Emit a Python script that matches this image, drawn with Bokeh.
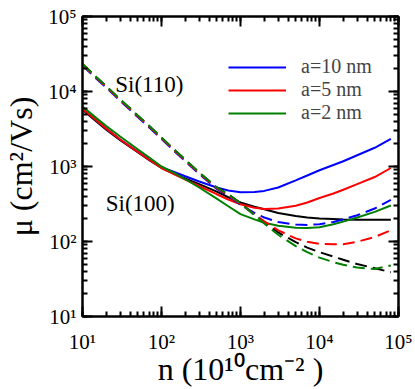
from bokeh.plotting import figure
from bokeh.models import Range1d, LogAxis, LogTicker, Legend, LegendItem, Label
from bokeh.embed import file_html
from bokeh.resources import INLINE

# carrier density n (10^10 cm^-2)
n = [10, 15, 20, 30, 50, 70, 100, 150, 200, 300, 500, 700, 1000, 1500, 2000, 3000,
     5000, 7000, 10000, 15000, 20000, 30000, 50000, 80000]

# Si(100) mobility (solid lines)
mu100_ref = [5700, 3981, 3090, 2239, 1549, 1216, 955, 785, 692, 582, 462, 389, 331, 292,
             269, 240, 219, 209, 203, 200, 197, 195, 195, 195]
mu100_a10 = [5888, 4121, 3199, 2291, 1585, 1245, 977, 832, 741, 631, 525, 479, 454, 457,
             473, 525, 653, 759, 891, 1047, 1175, 1413, 1778, 2344]
mu100_a5 = [5888, 4121, 3199, 2291, 1567, 1230, 955, 776, 668, 550, 427, 363, 313, 282,
            272, 275, 299, 331, 380, 437, 490, 582, 724, 955]
mu100_a2 = [6310, 4416, 3467, 2512, 1698, 1318, 1000, 804, 676, 525, 372, 295, 232, 197,
            178, 162, 153, 151, 155, 170, 184, 209, 248, 302]

# Si(110) mobility (dashed lines)
mu110_ref = [23230, 15490, 11750, 7853, 4786, 3467, 2432, 1622, 1230, 832, 525, 427, 324, 229,
             182, 132, 98, 83, 72, 63, 57, 50, 44, 39]
mu110_a10 = [22180, 14790, 11220, 7500, 4570, 3311, 2323, 1549, 1175, 794, 501, 407, 309, 240,
             209, 182, 168, 166, 170, 182, 197, 224, 275, 360]
mu110_a5 = [22700, 15140, 11480, 7674, 4677, 3388, 2377, 1585, 1202, 813, 513, 417, 316, 229,
            186, 141, 110, 99, 93, 92, 92, 99, 115, 141]
mu110_a2 = [23230, 15490, 11750, 7853, 4786, 3467, 2432, 1622, 1230, 832, 525, 427, 324, 224,
            174, 123, 87, 72, 61, 53, 49, 45, 43, 48]

major_ticks = [10, 100, 1000, 10000, 100000]
tick_labels = ["10\u00b9", "10\u00b2", "10\u00b3", "10\u2074", "10\u2075"]
legend_labels = ["a=10 nm", "a=5 nm", "a=2 nm"]
x_title = "n (10\u00b9\u2070cm\u207b\u00b2 )"
y_title = "\u03bc (cm\u00b2/Vs)"

FONT = "Liberation Serif"

p = figure(width=415, height=389, x_axis_type="log", y_axis_type="log",
           x_range=Range1d(10, 1e5), y_range=Range1d(10, 1e5),
           output_backend="svg", toolbar_location=None,
           min_border_left=80, min_border_right=17, min_border_top=16, min_border_bottom=72)
p.xgrid.visible = False
p.ygrid.visible = False
p.outline_line_color = "black"
p.outline_line_width = 2
p.background_fill_color = "white"
p.border_fill_color = "white"


def style(ax, labels):
    ax.ticker = LogTicker(num_minor_ticks=10, desired_num_ticks=5)
    ax.axis_line_width = 2
    ax.axis_line_color = "black"
    ax.major_tick_in = 10
    ax.major_tick_out = 0
    ax.minor_tick_in = 5
    ax.minor_tick_out = 0
    ax.major_tick_line_width = 2
    ax.minor_tick_line_width = 2
    ax.major_tick_line_color = "black"
    ax.minor_tick_line_color = "black"
    ax.major_label_overrides = {float(t): l for t, l in zip(major_ticks, labels)}
    ax.major_label_text_font = FONT
    ax.major_label_text_font_size = "21px"
    ax.major_label_text_color = "black"
    ax.axis_label_text_font = FONT
    ax.axis_label_text_font_size = "32px"
    ax.axis_label_text_font_style = "normal"
    ax.axis_label_text_color = "black"


style(p.xaxis[0], tick_labels)
style(p.yaxis[0], tick_labels)
p.xaxis[0].axis_label = x_title
p.yaxis[0].axis_label = y_title
p.xaxis[0].major_label_standoff = 13
p.xaxis[0].axis_label_standoff = -6
p.yaxis[0].major_label_standoff = 6
p.yaxis[0].axis_label_standoff = 6

blank = [""] * len(major_ticks)
for side in ("above", "right"):
    ax = LogAxis()
    style(ax, blank)
    ax.major_label_standoff = 0
    p.add_layout(ax, side)

colors = ["black", "blue", "red", "green"]
solid = [mu100_ref, mu100_a10, mu100_a5, mu100_a2]
dashed = [mu110_ref, mu110_a10, mu110_a5, mu110_a2]

rs = []
for ys, c in zip(solid, colors):
    rs.append(p.line(n, ys, line_color=c, line_width=2))
for ys, c in zip(dashed, colors):
    p.line(n, ys, line_color=c, line_width=2, line_dash="12 6")

legend = Legend(items=[LegendItem(label=legend_labels[i], renderers=[rs[i + 1]]) for i in range(3)],
                location=(146, 192), label_text_font=FONT, label_text_font_size="20px",
                glyph_width=58, glyph_height=22, label_height=22, spacing=0, padding=0, margin=0,
                label_standoff=15, border_line_alpha=0, background_fill_alpha=0)
p.add_layout(legend)

p.add_layout(Label(x=26, y=12300, text="Si(110)", text_font=FONT, text_font_size="23px",
                   text_baseline="alphabetic", text_color="black"))
p.add_layout(Label(x=19.7, y=325, text="Si(100)", text_font=FONT, text_font_size="23px",
                   text_baseline="alphabetic", text_color="black"))

open("out.html", "w").write(file_html(p, INLINE))
